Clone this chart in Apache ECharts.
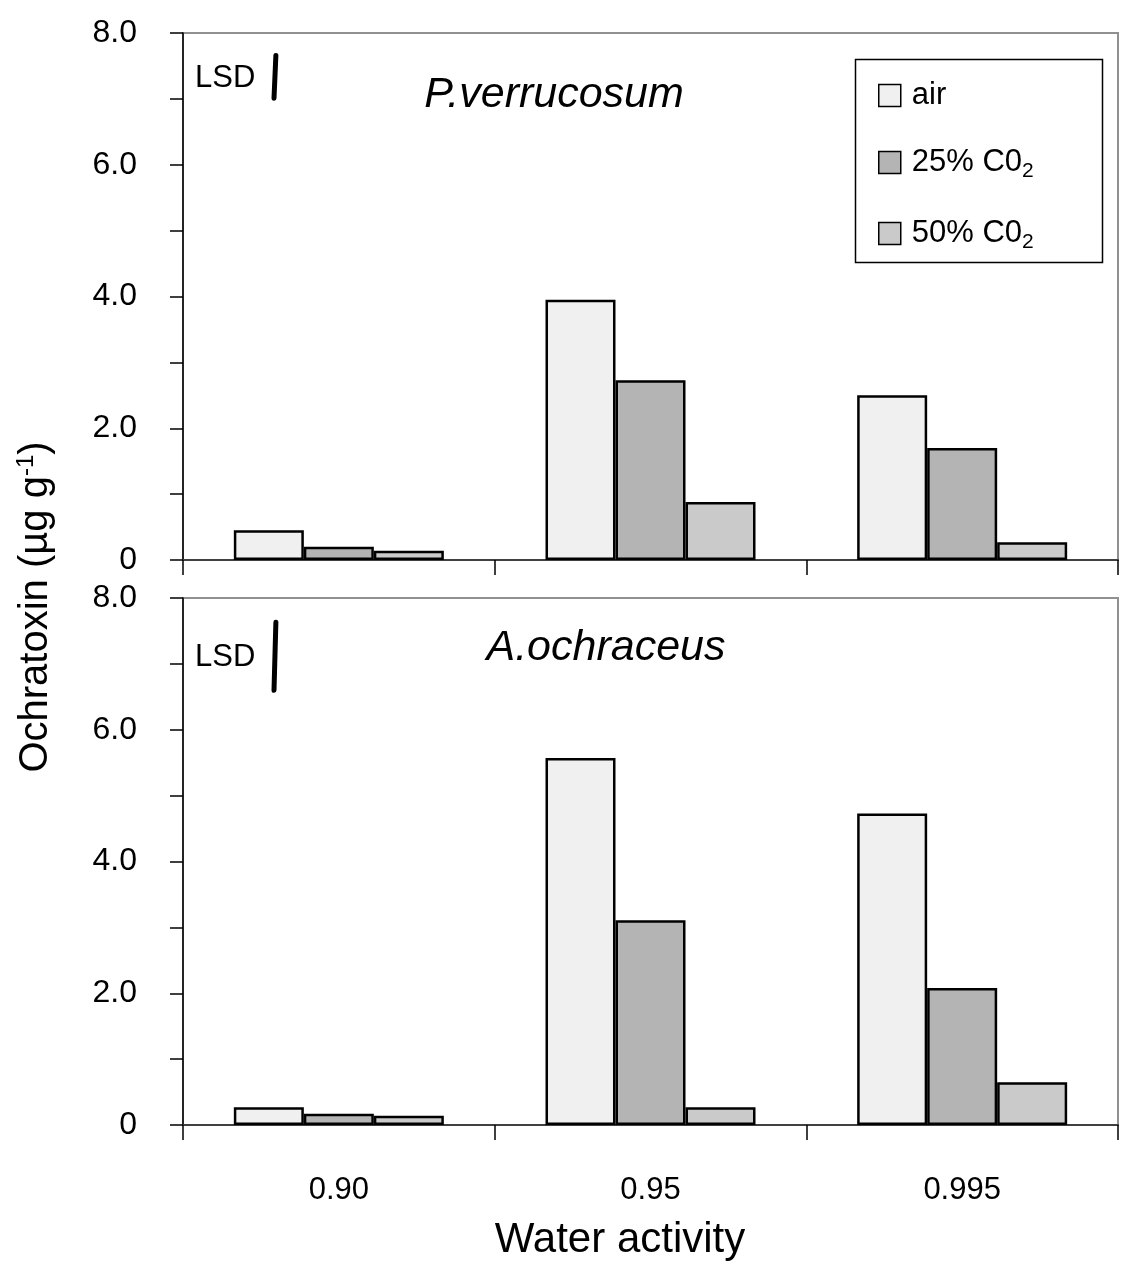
<!DOCTYPE html>
<html>
<head>
<meta charset="utf-8">
<title>Ochratoxin</title>
<script src="https://cdn.jsdelivr.net/npm/echarts@6/dist/echarts.min.js"></script>
<style>
  html, body { margin: 0; padding: 0; background: #fff; }
  #main { width: 1128px; height: 1281px; }
</style>
</head>
<body>
<div id="main"></div>
<script>
// categories (water activity)
var categories = ['0.90', '0.95', '0.995'];
var seriesNames = ['air', '25% C02', '50% C02'];

// P.verrucosum (top panel)
var pvAir = [0.45, 3.95, 2.50];
var pv25 = [0.20, 2.73, 1.70];
var pv50 = [0.14, 0.88, 0.27];

// A.ochraceus (bottom panel)
var aoAir = [0.27, 5.57, 4.73];
var ao25 = [0.17, 3.11, 2.08];
var ao50 = [0.14, 0.27, 0.65];

// LSD bars, [x in category units, y]
var lsdTop = [[0.298, 7.66], [0.292, 7.01]];
var lsdBottom = [[0.298, 7.63], [0.292, 6.60]];

var yTicks = [0, 2, 4, 6, 8];

window.onload = function () {
    var chart = echarts.init(document.getElementById('main'));
    var font = 'Liberation Sans, Arial, sans-serif';
    var colors = ['#f0f0f0', '#b4b4b4', '#cacaca'];

    // 两个面板共用的轴设置
    function catAxis(gridIndex, showLabel) {
        return {
            type: 'category',
            gridIndex: gridIndex,
            data: categories,
            axisLine: { lineStyle: { color: '#404040', width: 2 } },
            axisTick: { show: true, inside: false, length: 15, lineStyle: { color: '#000', width: 1.5 } },
            axisLabel: {
                show: showLabel, margin: 50,
                fontFamily: font, fontSize: 31, color: '#000'
            },
            splitLine: { show: false }
        };
    }
    function valAxis(gridIndex) {
        return {
            type: 'value',
            gridIndex: gridIndex,
            min: 0, max: 8, interval: 1,
            axisLine: { show: true, lineStyle: { color: '#000', width: 1.5 } },
            axisTick: { show: true, inside: false, length: 13, lineStyle: { color: '#000', width: 1.5 } },
            axisLabel: {
                margin: 46, fontFamily: font, fontSize: 32, color: '#000',
                padding: [0, 0, 16, 0],
                formatter: function (v) {
                    if (yTicks.indexOf(v) < 0) return '';
                    return v === 0 ? '0' : v.toFixed(1);
                }
            },
            splitLine: { show: false }
        };
    }
    function hiddenX(gridIndex) {
        return { type: 'value', gridIndex: gridIndex, min: 0, max: 3, show: false };
    }
    function bars(name, data, idx, xi, yi) {
        return {
            name: name, type: 'bar',
            xAxisIndex: xi, yAxisIndex: yi,
            data: data,
            barWidth: 70, barGap: '0%',
            itemStyle: { color: colors[idx], borderColor: '#000', borderWidth: 2.5 }
        };
    }
    function lsd(data, xi, yi) {
        return {
            type: 'line', xAxisIndex: xi, yAxisIndex: yi,
            data: data, symbol: 'none', silent: true,
            lineStyle: { color: '#000', width: 5, cap: 'round' }
        };
    }

    var option = {
        backgroundColor: '#fff',
        animation: false,
        grid: [
            { left: 183, right: 10, top: 33, height: 527, show: true, borderColor: '#909090', borderWidth: 2 },
            { left: 183, right: 10, top: 598, height: 527, show: true, borderColor: '#909090', borderWidth: 2 }
        ],
        legend: {
            data: seriesNames,
            orient: 'vertical',
            left: 873, top: 75,
            itemWidth: 22, itemHeight: 22,
            itemGap: 36,
            icon: 'rect',
            itemStyle: { borderColor: '#000', borderWidth: 1.5 },
            textStyle: {
                fontFamily: font, fontSize: 31, color: '#000', padding: [0, 0, 0, 6],
                rich: {
                    a: { fontFamily: font, fontSize: 31, color: '#000' },
                    sub: { fontFamily: font, fontSize: 21, color: '#000', verticalAlign: 'bottom', padding: [18, 0, 0, 0] }
                }
            },
            formatter: function (n) {
                if (n.indexOf('C02') >= 0) return '{a|' + n.slice(0, -1) + '}{sub|2}';
                return '{a|' + n + '}';
            }
        },
        xAxis: [catAxis(0, false), catAxis(1, true), hiddenX(0), hiddenX(1)],
        yAxis: [valAxis(0), valAxis(1)],
        series: [
            bars(seriesNames[0], pvAir, 0, 0, 0),
            bars(seriesNames[1], pv25, 1, 0, 0),
            bars(seriesNames[2], pv50, 2, 0, 0),
            bars(seriesNames[0], aoAir, 0, 1, 1),
            bars(seriesNames[1], ao25, 1, 1, 1),
            bars(seriesNames[2], ao50, 2, 1, 1),
            lsd(lsdTop, 2, 0),
            lsd(lsdBottom, 3, 1)
        ],
        graphic: [
            // legend box
            { type: 'rect', left: 853, top: 57, shape: { width: 247, height: 203 },
              style: { fill: 'none', stroke: '#000', lineWidth: 1.5 }, z: 10 },
            { type: 'text', x: 195, y: 78,
              style: { text: 'LSD', font: '31px ' + font, fill: '#000', textVerticalAlign: 'middle' } },
            { type: 'text', x: 195, y: 657,
              style: { text: 'LSD', font: '31px ' + font, fill: '#000', textVerticalAlign: 'middle' } },
            { type: 'text', x: 554, y: 95,
              style: { text: 'P.verrucosum', font: 'italic 43px ' + font, fill: '#000',
                       textAlign: 'center', textVerticalAlign: 'middle' } },
            { type: 'text', x: 606, y: 648,
              style: { text: 'A.ochraceus', font: 'italic 43px ' + font, fill: '#000',
                       textAlign: 'center', textVerticalAlign: 'middle' } },
            { type: 'text', x: 620, y: 1240,
              style: { text: 'Water activity', font: '42px ' + font, fill: '#000',
                       textAlign: 'center', textVerticalAlign: 'middle' } },
            { type: 'text', x: 36, y: 607, rotation: Math.PI / 2,
              style: {
                  text: '{a|Ochratoxin (µg g}{sup|-1}{a|)}',
                  textAlign: 'center', textVerticalAlign: 'middle',
                  rich: {
                      a: { fontFamily: font, fontSize: 40, fill: '#000' },
                      sup: { fontFamily: font, fontSize: 24, fill: '#000', verticalAlign: 'top', padding: [0, 0, 20, 0] }
                  }
              } }
        ]
    };

    chart.setOption(option);
};
</script>
</body>
</html>
